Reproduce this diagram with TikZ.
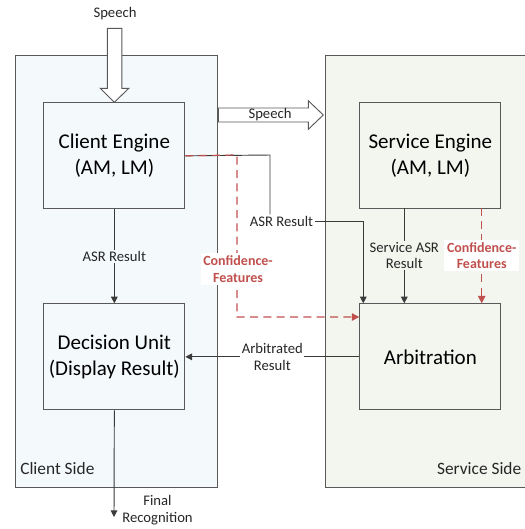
\documentclass[tikz,border=0pt]{standalone}
\usepackage{fontspec}
\setmainfont{Carlito}
\usetikzlibrary{arrows.meta,calc}
\definecolor{clientfill}{HTML}{F4F9FB}
\definecolor{servicefill}{HTML}{F3F5EF}
\definecolor{edgegray}{HTML}{595959}
\definecolor{linegray}{HTML}{3A3A3A}
\definecolor{confred}{HTML}{C0504D}
\tikzset{
  region/.style={draw=edgegray, line width=0.8pt, anchor=north west, inner sep=0pt},
  unitbox/.style={draw=edgegray, line width=0.8pt, minimum width=105.75pt, minimum height=79.5pt,
    anchor=north west, inner sep=0pt, align=center, font=\fontsize{15.75}{19.5}\selectfont},
  conn/.style={draw=linegray, line width=0.7pt},
  arr/.style={-{Triangle[width=5pt,length=5pt]}},
  reddash/.style={draw=confred, line width=0.9pt, dash pattern=on 6pt off 4pt},
  redarr/.style={-{Triangle[width=5.5pt,length=5.5pt,fill=confred]}},
  lbl/.style={font=\fontsize{11}{12.5}\selectfont, align=center, inner sep=1pt, text=black!85},
  redlbl/.style={font=\bfseries\fontsize{10.5}{12.5}\selectfont, align=center, inner sep=2pt, text=confred, fill=white},
  sidelbl/.style={font=\fontsize{13}{15}\selectfont, inner sep=0pt, text=black!85},
  blockarrow/.style={draw=edgegray, line width=0.7pt, fill=white}
}
\begin{document}
\begin{tikzpicture}[x=0.75pt,y=-0.75pt]
\useasboundingbox (0,0) rectangle (525,529);
% regions
\node[region, fill=clientfill, minimum width=151.5pt, minimum height=324pt] (client) at (15,55) {};
\node[region, fill=servicefill, minimum width=152pt, minimum height=324pt] (service) at (325,55) {};
\node[sidelbl, anchor=base west] (clab) at (20,474) {Client Side};
\node[sidelbl, anchor=base east] (slab) at (521.5,474) {Service Side};
% unit boxes
\node[unitbox, fill=clientfill] (ce) at (43.3,102.3) {Client Engine\\(AM, LM)};
\node[unitbox, fill=clientfill] (du) at (43.3,303.3) {Decision Unit\\(Display Result)};
\node[unitbox, fill=servicefill] (se) at (359.3,102.3) {Service Engine\\(AM, LM)};
\node[unitbox, fill=servicefill] (arb) at (359.3,303.3) {Arbitration};
% top speech block arrow
\node[lbl] (sp1) at (115,14) {Speech};
\path[blockarrow] (107.3,28.3) -- (121.8,28.3) -- (121.8,88.3) -- (128.8,88.3) -- (ce.north) -- (100.3,88.3) -- (107.3,88.3) -- cycle;
% right speech block arrow
\coordinate (sptip) at (323.3,115);
\path[blockarrow] (218.3,108) -- (308.3,108) -- (308.3,100.7) -- (sptip) -- (308.3,129.3) -- (308.3,122) -- (218.3,122) -- cycle;
\node[lbl] (sp2) at (270,115) {Speech};
% client ASR result to arbitration
\coordinate (j1) at (270,155);
\node[lbl] (asr2) at (281.5,221) {ASR Result};
\draw[conn] (ce.east) -- (j1) -- (j1 |- asr2.north);
\coordinate (a2) at (363.3,303.3);
\draw[conn,arr] (asr2.east) -| (a2);
% red confidence features from client
\coordinate (j2) at (237,155);
\coordinate (j3) at (237,317);
\draw[reddash,redarr] (ce.east) -- (j2) -- (j3) -- (j3 -| arb.west);
\node[redlbl] (cf1) at (238,269) {Confidence-\\Features};
% service ASR result
\coordinate (s1) at (404.3,207.7);
\draw[conn,arr] (s1) -- node[lbl, fill=servicefill] (sasr) {Service ASR\\Result} (s1 |- arb.north);
% red confidence features from service
\coordinate (s2) at (481.7,207.7);
\draw[reddash,redarr] (s2) -- node[redlbl] (cf2) {Confidence-\\Features} (s2 |- arb.north);
% client ASR result to decision unit
\draw[conn,arr] (ce.south) -- node[lbl, fill=clientfill] (asr1) {ASR Result} (du.north);
% arbitrated result
\draw[conn,arr] (arb.west) -- node[lbl, fill=white] (arl) {Arbitrated\\Result} (du.east);
% final recognition
\coordinate (fin) at (114,517);
\draw[conn,arr] (du.south) -- (fin);
\node[lbl] (finl) at (157.5,510) {Final\\Recognition};
\end{tikzpicture}
\end{document}
